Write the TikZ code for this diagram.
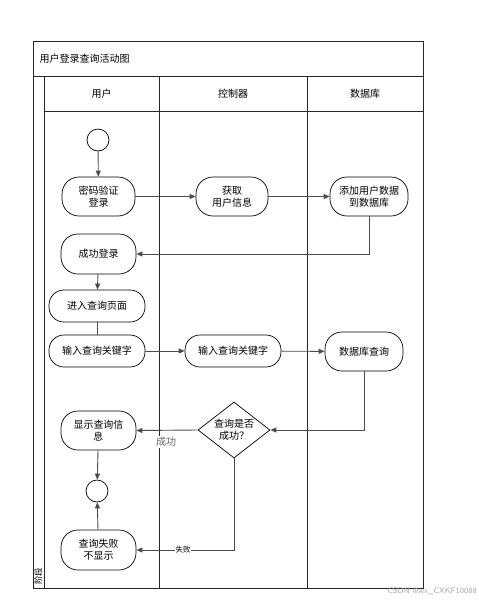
\documentclass[tikz,border=0pt]{standalone}
\usepackage{fontspec}
\setmainfont{Noto Sans CJK SC}
\usetikzlibrary{shapes.geometric,arrows.meta}
\begin{document}
\begin{tikzpicture}[x=1pt,y=-1pt,
  frame/.style={draw=black!85,line width=1pt},
  act/.style={draw=black,line width=0.7pt,rectangle,rounded corners=17pt,align=center,font=\fontsize{10}{12}\selectfont,inner sep=0pt},
  flow/.style={draw=black!70,line width=0.9pt,-{Triangle[length=6pt,width=5pt]}},
  plain/.style={draw=black!70,line width=0.9pt},
  circ/.style={draw=black,line width=0.7pt,circle,minimum size=22pt,inner sep=0pt},
  lbl/.style={font=\fontsize{10}{12}\selectfont}]
\useasboundingbox (0,0) rectangle (479,603);
% frames
\draw[frame] (33,41) rectangle (423,588);
\draw[frame] (33,76) -- (423,76);
\draw[frame] (44,76) -- (44,588);
\draw[frame] (44,111) -- (423,111);
\draw[frame] (159,76) -- (159,588);
\draw[frame] (307,76) -- (307,588);
\node[lbl,anchor=west] (title) at (36,58.5) {用户登录查询活动图};
\node[lbl] (h1) at (101.5,93.5) {用户};
\node[lbl] (h2) at (233,93.5) {控制器};
\node[lbl] (h3) at (365,93.5) {数据库};
\node[font=\fontsize{8.5}{10}\selectfont,rotate=90,inner sep=0pt] (phase) at (38.5,576) {阶段};
% nodes
\node[circ] (start) at (98,140) {};
\node[act,minimum width=73pt,minimum height=39pt] (login) at (98.5,196.5) {密码验证\\登录};
\node[act,minimum width=72pt,minimum height=39pt] (get) at (232,196.5) {获取\\用户信息};
\node[act,minimum width=78pt,minimum height=39pt] (add) at (369,196.5) {添加用户数据\\到数据库};
\node[act,minimum width=75pt,minimum height=40pt] (ok) at (98.5,254) {成功登录};
\node[act,minimum width=96pt,minimum height=32pt,rounded corners=15pt] (enter) at (97,306) {进入查询页面};
\node[act,minimum width=96pt,minimum height=32pt,rounded corners=15pt] (in1) at (97,351) {输入查询关键字};
\node[act,minimum width=96pt,minimum height=32pt,rounded corners=15pt] (in2) at (233,351) {输入查询关键字};
\node[act,minimum width=78pt,minimum height=39pt] (dbq) at (364,351.5) {数据库查询};
\node[diamond,draw=black,line width=0.7pt,aspect=1.3,minimum width=72pt,minimum height=56pt,inner sep=0pt,align=center,font=\fontsize{10}{12}\selectfont] (dec) at (234,430) {查询是否\\成功？};
\node[act,minimum width=75pt,minimum height=39pt] (show) at (98.5,430.5) {显示查询信\\息};
\node[circ] (end) at (97,491) {};
\node[act,minimum width=75pt,minimum height=40pt] (fail) at (98.5,550) {查询失败\\不显示};
% connectors
\draw[flow] (start) -- (login);
\draw[flow] (login) -- (get);
\draw[flow] (get) -- (add);
\draw[flow] (add.south) |- (ok.east);
\draw[flow] (ok) -- (enter);
\draw[plain] (enter) -- (in1);
\draw[flow] (in1) -- (in2);
\draw[flow] (in2) -- (dbq);
\draw[flow] (dbq.south) |- (dec.east);
\draw[flow] (dec.west) -- (show.east);
\draw[flow] (show) -- (end);
\draw[flow] (fail) -- (end);
\draw[flow] (dec.south) |- (fail.east) node[pos=0.76,fill=white,inner sep=0.5pt,font=\fontsize{7.5}{9}\selectfont] (fl) {失败};
\node[fill=white,inner sep=1pt,text=black!60,lbl] (sl) at (166,442) {成功};
% watermark
\node[anchor=east,text=black!35,font=\fontsize{8}{9}\selectfont\sffamily,inner sep=0pt] (wm) at (477,591) {CSDN @wx\_CXKF10088};
\end{tikzpicture}
\end{document}
